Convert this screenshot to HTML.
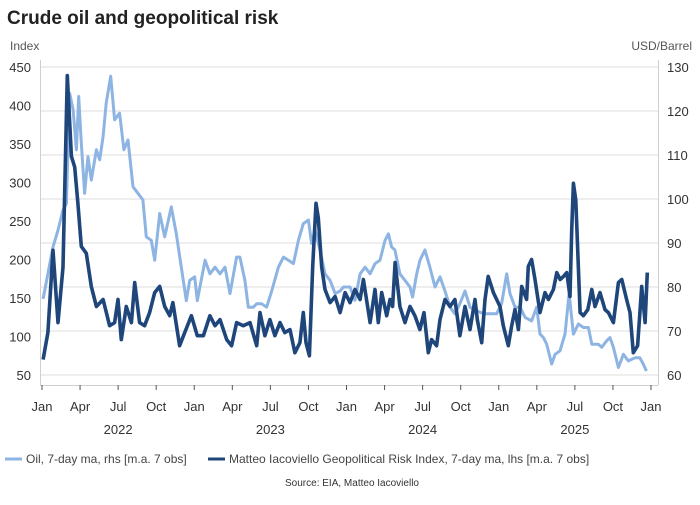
<!DOCTYPE html>
<html><head><meta charset="utf-8">
<style>
html,body{margin:0;padding:0;background:#fff;}
body{width:700px;height:500px;overflow:hidden;font-family:"Liberation Sans",sans-serif;}
svg text{font-family:"Liberation Sans",sans-serif;}
</style></head>
<body>
<svg id="chart" width="700" height="500" viewBox="0 0 700 500" xmlns="http://www.w3.org/2000/svg">
<text x="7" y="24" font-size="19" font-weight="bold" fill="#222">Crude oil and geopolitical risk</text>
<text x="10" y="50" font-size="12" fill="#555">Index</text>
<text x="692" y="50" font-size="12" fill="#555" text-anchor="end">USD/Barrel</text>
<g id="grid"></g>
<g id="axes"></g>
<g id="series"></g>
<g>
  <line x1="5" y1="459" x2="22" y2="459" stroke="#8db4e2" stroke-width="3"/>
  <text x="26" y="463" font-size="12" fill="#444">Oil, 7-day ma, rhs [m.a. 7 obs]</text>
  <line x1="208" y1="459" x2="225" y2="459" stroke="#1f467a" stroke-width="3"/>
  <text x="229" y="463" font-size="12" fill="#444">Matteo Iacoviello Geopolitical Risk Index, 7-day ma, lhs [m.a. 7 obs]</text>
</g>
<text x="352" y="486" font-size="10" fill="#333" text-anchor="middle">Source: EIA, Matteo Iacoviello</text>
</svg>
<script>
const leftTicks = [50,100,150,200,250,300,350,400,450];
const rightTicks = [60,70,80,90,100,110,120,130];
const monthLabels = ["Jan","Apr","Jul","Oct"];
const yearLabels = ["2022","2023","2024","2025"];
const gprDates = [2022.007,2022.039,2022.072,2022.105,2022.138,2022.166,2022.193,2022.215,2022.236,2022.258,2022.291,2022.324,2022.357,2022.401,2022.444,2022.477,2022.499,2022.521,2022.554,2022.587,2022.609,2022.641,2022.674,2022.707,2022.740,2022.773,2022.806,2022.839,2022.860,2022.904,2022.937,2022.981,2023.020,2023.060,2023.103,2023.136,2023.169,2023.213,2023.245,2023.278,2023.322,2023.366,2023.410,2023.432,2023.464,2023.497,2023.530,2023.563,2023.595,2023.629,2023.661,2023.694,2023.716,2023.734,2023.756,2023.778,2023.800,2023.815,2023.837,2023.859,2023.892,2023.925,2023.958,2023.991,2024.023,2024.056,2024.089,2024.111,2024.155,2024.187,2024.209,2024.231,2024.264,2024.286,2024.303,2024.319,2024.351,2024.384,2024.417,2024.449,2024.482,2024.509,2024.537,2024.559,2024.592,2024.614,2024.647,2024.680,2024.712,2024.745,2024.778,2024.811,2024.844,2024.859,2024.888,2024.910,2024.931,2024.965,2025.008,2025.030,2025.063,2025.085,2025.107,2025.129,2025.151,2025.183,2025.194,2025.216,2025.238,2025.271,2025.304,2025.326,2025.359,2025.381,2025.403,2025.425,2025.447,2025.468,2025.479,2025.490,2025.506,2025.534,2025.556,2025.585,2025.611,2025.632,2025.665,2025.698,2025.720,2025.753,2025.786,2025.808,2025.840,2025.862,2025.884,2025.912,2025.939,2025.961,2025.976];
const gprValues = [70,105,212,118,190,439,334,320,273,217,208,165,139,148,114,118,148,96,139,118,170,118,114,131,157,165,139,127,144,88,105,127,101,101,127,114,122,96,88,118,114,118,88,131,101,122,101,118,105,109,79,92,131,92,75,191,273,254,190,161,144,152,131,157,144,161,148,174,118,161,118,157,127,148,139,196,139,118,139,127,109,131,79,96,88,122,148,139,148,101,139,109,148,122,92,148,178,157,139,114,88,114,135,109,165,148,191,200,174,131,157,148,161,183,174,178,183,152,238,299,277,131,127,135,161,139,157,135,131,118,170,174,148,131,79,88,165,118,183,148];
const oilDates = [2022.007,2022.039,2022.072,2022.105,2022.138,2022.160,2022.182,2022.204,2022.226,2022.241,2022.258,2022.280,2022.302,2022.324,2022.357,2022.379,2022.401,2022.422,2022.451,2022.477,2022.510,2022.538,2022.565,2022.598,2022.630,2022.663,2022.685,2022.718,2022.740,2022.773,2022.806,2022.849,2022.882,2022.915,2022.948,2022.970,2023.003,2023.020,2023.071,2023.103,2023.136,2023.169,2023.202,2023.235,2023.278,2023.300,2023.333,2023.355,2023.388,2023.410,2023.442,2023.475,2023.509,2023.553,2023.586,2023.618,2023.651,2023.684,2023.716,2023.750,2023.771,2023.793,2023.826,2023.859,2023.892,2023.925,2023.958,2023.980,2024.023,2024.056,2024.089,2024.122,2024.155,2024.187,2024.220,2024.253,2024.275,2024.296,2024.318,2024.351,2024.384,2024.417,2024.434,2024.461,2024.483,2024.515,2024.548,2024.581,2024.614,2024.647,2024.680,2024.712,2024.745,2024.778,2024.811,2024.855,2024.899,2024.942,2024.986,2025.019,2025.052,2025.074,2025.107,2025.140,2025.173,2025.216,2025.249,2025.271,2025.293,2025.315,2025.348,2025.370,2025.402,2025.435,2025.462,2025.490,2025.523,2025.556,2025.589,2025.611,2025.654,2025.676,2025.709,2025.731,2025.753,2025.786,2025.819,2025.851,2025.895,2025.927,2025.949,2025.970];
const oilValues = [77.3,83,89.1,92.9,97.5,99,124,120.3,111.2,123.3,112.7,101.3,109.6,104.3,111.2,108.9,114.2,121.8,127.9,118,119.5,111.2,113.4,102.8,101.3,99.8,91.4,90.6,86.1,96.7,91.4,98.2,92.1,84.5,76.9,81.5,82.3,76.9,86.1,83,84.5,83,84.5,78.5,86.8,86.8,81.5,75.4,75.4,76.2,76.2,75.4,79.1,84.5,86.8,86.1,85.3,90.6,94.4,95.2,89.9,92.9,88.4,83,81.5,78.5,79.1,80,80,77,83,84.5,83,85.3,86.1,90.6,92.1,89.1,88.4,83,81.5,80,77.7,83,86.1,88.4,84.5,80,82.3,79.1,75.4,73.9,76.2,79.1,75.4,74.6,73.9,73.9,73.9,76.2,83,78.5,75.4,75.4,73.1,72.3,75.4,69.3,68.5,67,62.5,64.7,65.5,69.3,78.5,69.3,71.6,70.8,70.8,67,67,66.3,67.8,68.5,66.3,61.7,64.7,63.2,63.9,63.9,62.5,60.9];

const X0 = 42, X1 = 651, Y0 = 67, Y1 = 375;
function xs(t){ return X0 + (t - 2022) * (X1 - X0) / 4; }
function yl(v){ return Y1 - (v - 50) * (Y1 - Y0) / 400; }
function yr(v){ return Y1 - (v - 60) * (Y1 - Y0) / 70; }
const NS = "http://www.w3.org/2000/svg";
function mk(tag, attrs, parent){ const e = document.createElementNS(NS, tag); for (const k in attrs) e.setAttribute(k, attrs[k]); parent.appendChild(e); return e; }
const grid = document.getElementById('grid');
const axes = document.getElementById('axes');
const series = document.getElementById('series');

rightTicks.forEach(v => {
  const g = mk('line', {x1:40, x2:658, y1:yr(v), y2:yr(v), stroke:'#dcdcdc', 'stroke-width':1}, grid);
  
  
  const t = mk('text', {x:667, y:yr(v)+5, 'font-size':13, fill:'#333'}, axes);
  t.textContent = v;
  
  
});
leftTicks.forEach(v => {
  const t = mk('text', {x:31, y:yl(v)+5, 'font-size':13, fill:'#333', 'text-anchor':'end'}, axes);
  t.textContent = v;
  
  
});
const la = mk('line', {x1:40.5, x2:40.5, y1:60, y2:385, stroke:'#cfcfcf'}, axes);


const ra = mk('line', {x1:658.5, x2:658.5, y1:60, y2:385, stroke:'#cfcfcf'}, axes);


const xa = mk('line', {x1:40, x2:658, y1:385.5, y2:385.5, stroke:'#cfcfcf'}, axes);


for (let q = 0; q <= 16; q++) {
  const t = 2022 + q / 4;
  const x = xs(t);
  const tk = mk('line', {x1:x, x2:x, y1:385, y2:390, stroke:'#555'}, axes);
  
  
  const lb = mk('text', {x:x, y:411, 'font-size':13, fill:'#333', 'text-anchor':'middle'}, axes);
  lb.textContent = monthLabels[q % 4];
  
  
}
yearLabels.forEach((y, i) => {
  const lb = mk('text', {x:xs(2022 + i + 0.5), y:434, 'font-size':13, fill:'#333', 'text-anchor':'middle'}, axes);
  lb.textContent = y;
  
  
});

const oilPts = oilDates.map((d, i) => xs(d).toFixed(1) + ',' + yr(oilValues[i]).toFixed(1)).join(' ');
const oil = mk('polyline', {points:oilPts, fill:'none', stroke:'#8db4e2', 'stroke-width':3, 'stroke-linejoin':'round'}, series);


const gprPts = gprDates.map((d, i) => xs(d).toFixed(1) + ',' + yl(gprValues[i]).toFixed(1)).join(' ');
const gpr = mk('polyline', {points:gprPts, fill:'none', stroke:'#1f467a', 'stroke-width':3.6, 'stroke-linejoin':'round'}, series);


</script>
</body></html>
